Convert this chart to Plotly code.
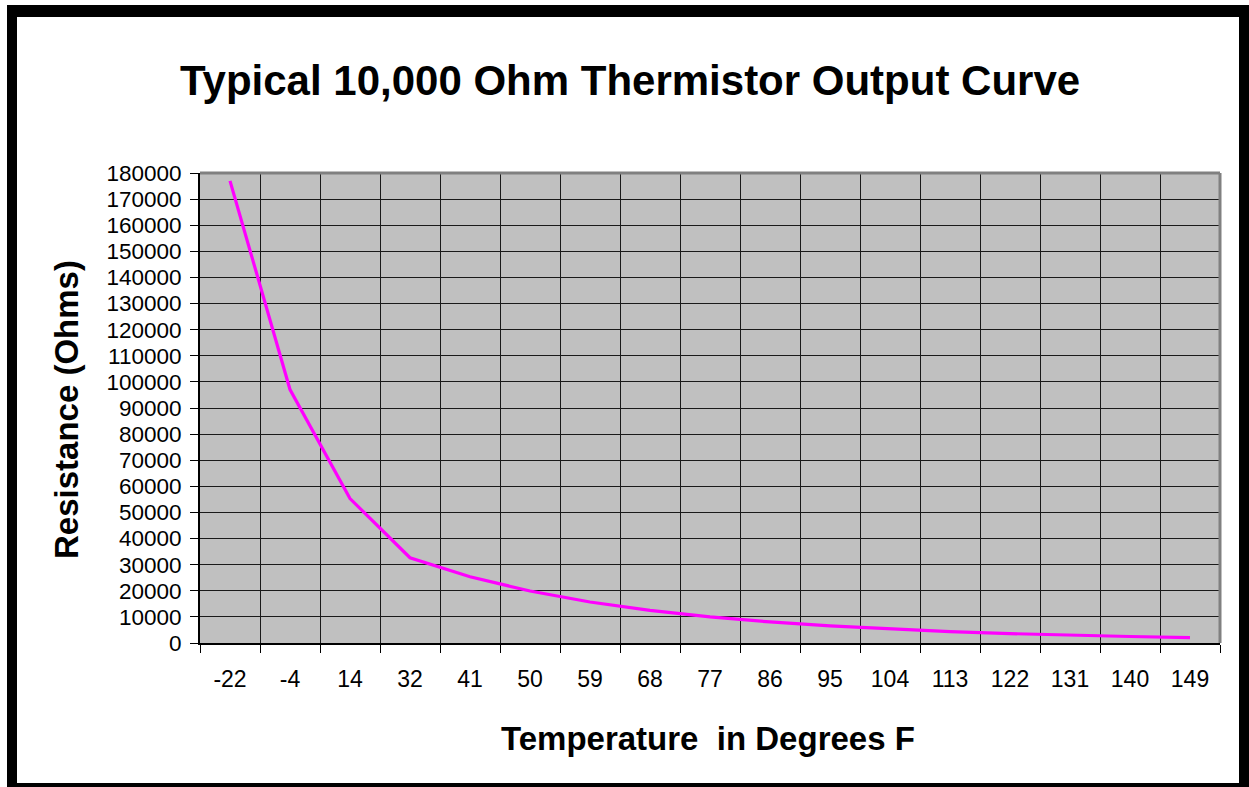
import plotly.graph_objects as go

temps_f = ["-22", "-4", "14", "32", "41", "50", "59", "68", "77", "86",
           "95", "104", "113", "122", "131", "140", "149"]
resistance_ohms = [177000, 97070, 55330, 32650, 25390, 19900, 15710, 12490,
                   10000, 8057, 6531, 5327, 4369, 3603, 2986, 2488, 2083]

title_text = "Typical 10,000 Ohm Thermistor Output Curve"
x_title = "Temperature  in Degrees F"
y_title = "Resistance (Ohms)"

W, H = 1249, 787
L, R, T, B = 200, 1220, 173, 643


def px(x):
    return (x - L) / (R - L)


def py(y):
    return (B - y) / (B - T)


FONT = "Arial, 'Liberation Sans', sans-serif"

fig = go.Figure()
fig.add_trace(go.Scatter(x=temps_f, y=resistance_ohms, mode="lines",
                         line=dict(color="#FF00FF", width=3.2), showlegend=False,
                         hoverinfo="x+y"))

fig.update_layout(
    width=W, height=H,
    margin=dict(l=L, r=W - R, t=T, b=H - B, pad=0),
    paper_bgcolor="white",
    plot_bgcolor="#C0C0C0",
    font=dict(family=FONT, color="black", size=23),
    showlegend=False,
)

fig.update_xaxes(
    type="category", tickson="boundaries", range=[-0.5, len(temps_f) - 0.5],
    showgrid=True, gridcolor="#1a1a1a", gridwidth=1,
    showline=True, linecolor="black", linewidth=2,
    ticks="outside", ticklen=8, tickwidth=1, tickcolor="black",
    tickfont=dict(size=23, family=FONT), ticklabelstandoff=14,
    zeroline=False, fixedrange=True,
)
fig.update_yaxes(
    range=[0, 180000], dtick=10000, tick0=0,
    showgrid=True, gridcolor="#1a1a1a", gridwidth=1,
    showline=True, linecolor="black", linewidth=2,
    ticks="outside", ticklen=8, tickwidth=1, tickcolor="black",
    tickfont=dict(size=22.5, family=FONT), ticklabelstandoff=4,
    zeroline=False, fixedrange=True, tickformat="d",
)

shapes = []
# plot area top/right grey border
shapes.append(dict(type="line", xref="paper", yref="paper", x0=0, x1=1, y0=1, y1=1,
                   line=dict(color="#808080", width=3), layer="above"))
shapes.append(dict(type="line", xref="paper", yref="paper", x0=1, x1=1, y0=0, y1=1,
                   line=dict(color="#808080", width=3), layer="above"))
# outer black frame
for (x0, y0, x1, y1) in [(7, 5, 17, 787), (7, 5, 1249, 17), (1239, 5, 1249, 787), (7, 783, 1249, 787)]:
    shapes.append(dict(type="rect", xref="paper", yref="paper",
                       x0=px(x0), x1=px(x1), y0=py(y1), y1=py(y0),
                       fillcolor="black", line=dict(width=0), layer="above"))
fig.update_layout(shapes=shapes)

fig.add_annotation(text="<b>" + title_text + "</b>", xref="paper", yref="paper",
                   x=px(630), y=py(80), xanchor="center", yanchor="middle",
                   showarrow=False, font=dict(size=42, family=FONT))
fig.add_annotation(text="<b>" + x_title + "</b>", xref="paper", yref="paper",
                   x=px(708), y=py(738), xanchor="center", yanchor="middle",
                   showarrow=False, font=dict(size=33, family=FONT))
fig.add_annotation(text="<b>" + y_title + "</b>", xref="paper", yref="paper",
                   x=px(66), y=py(410), xanchor="center", yanchor="middle",
                   textangle=-90, showarrow=False, font=dict(size=33, family=FONT))

fig.write_html("out.html", config={"displayModeBar": False},
               post_script="document.body.style.margin='0';document.body.style.overflow='hidden';")
